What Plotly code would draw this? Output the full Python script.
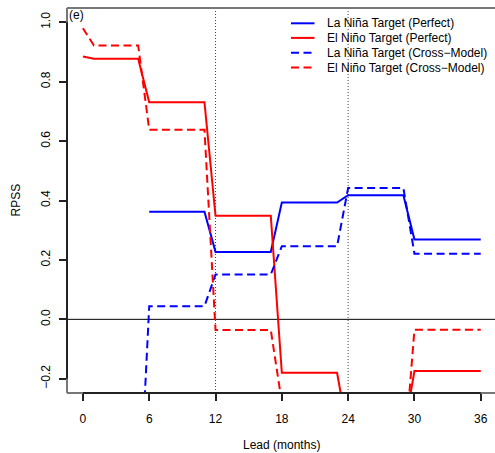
import plotly.graph_objects as go

# Lead time in months
lead = list(range(37))

# RPSS by lead, one value per month (None = not available)
lanina_perfect = [None] * 6 + [0.362] * 6 + [0.227] * 6 + [0.393] * 6 + [0.418] * 6 + [0.269] * 7
elnino_perfect = [0.885] + [0.877] * 5 + [0.731] * 6 + [0.349] * 6 + [-0.180] * 6 + [-0.39] * 6 + [-0.174] * 7
lanina_cross = [-0.71] * 6 + [0.044] * 6 + [0.151] * 6 + [0.246] * 6 + [0.442] * 6 + [0.221] * 7
elnino_cross = [0.98] + [0.922] * 5 + [0.638] * 6 + [-0.036] * 6 + [-0.28] * 6 + [-0.50] * 6 + [-0.035] * 7

series_names = [
    "La Niña Target (Perfect)",
    "El Niño Target (Perfect)",
    "La Niña Target (Cross\u2212Model)",
    "El Niño Target (Cross\u2212Model)",
]
series_values = [lanina_perfect, elnino_perfect, lanina_cross, elnino_cross]
series_colors = ["#0000FF", "#FF0000", "#0000FF", "#FF0000"]
series_dash = ["solid", "solid", "8px,4.5px", "8px,4.5px"]

x_ticks = [0, 6, 12, 18, 24, 30, 36]
y_ticks = [-0.2, 0.0, 0.2, 0.4, 0.6, 0.8, 1.0]
y_ticktext = ["\u22120.2", "0.0", "0.2", "0.4", "0.6", "0.8", "1.0"]
year_marks = [12, 24]
panel_label = "(e)"

FONT = "Liberation Sans, Arial, Helvetica, sans-serif"

fig = go.Figure()
for name, vals, col, dash in zip(series_names, series_values, series_colors, series_dash):
    fig.add_trace(go.Scatter(
        x=lead, y=vals, mode="lines", name=name,
        line=dict(color=col, width=2, dash=dash),
        connectgaps=False, showlegend=False,
    ))

shapes = []
# year boundaries
for xm in year_marks:
    shapes.append(dict(type="line", xref="x", yref="paper", x0=xm, x1=xm, y0=0, y1=1,
                       line=dict(color="#444444", width=1, dash="1px,2px"), layer="below"))
# zero reference line
shapes.append(dict(type="line", xref="paper", yref="y", x0=0, x1=1, y0=0, y1=0,
                   line=dict(color="black", width=1), layer="below"))
# plot frame (top, left, bottom)
frame = dict(color="#777777", width=2)
shapes.append(dict(type="line", xref="paper", yref="paper", x0=0, x1=1, y0=1, y1=1, line=frame))
shapes.append(dict(type="line", xref="paper", yref="paper", x0=0, x1=0, y0=0, y1=1, line=frame))
shapes.append(dict(type="line", xref="paper", yref="paper", x0=0, x1=1, y0=0, y1=0, line=frame))
# axis lines spanning the tick range
axis_line = dict(color="#222222", width=2)
shapes.append(dict(type="line", xref="x", yref="paper", x0=x_ticks[0], x1=x_ticks[-1], y0=0, y1=0, line=axis_line))
shapes.append(dict(type="line", xref="paper", yref="y", x0=0, x1=0, y0=y_ticks[0], y1=y_ticks[-1], line=axis_line))

# key
L, T, W, H = 67, 8, 428, 385
def px(xp):
    return (xp - L) / W
def py(yp):
    return (T + H - yp) / H

annotations = []
row_y = [23.3, 37.9, 52.7, 67.5]
for name, col, dash, yy in zip(series_names, series_colors, series_dash, row_y):
    shapes.append(dict(type="line", xref="paper", yref="paper", x0=px(291), x1=px(314.5),
                       y0=py(yy), y1=py(yy), line=dict(color=col, width=2, dash=dash)))
    annotations.append(dict(text=name, xref="paper", yref="paper", x=px(325), y=py(yy),
                            xanchor="left", yanchor="middle", showarrow=False,
                            font=dict(size=12, color="black", family=FONT)))

annotations.append(dict(text=panel_label, xref="paper", yref="paper", x=0, y=1, xshift=0, yshift=2,
                        xanchor="left", yanchor="top", showarrow=False,
                        font=dict(size=12, color="black", family=FONT)))
annotations.append(dict(text="Lead (months)", xref="x", yref="paper", x=18, y=0, yshift=-52,
                        xanchor="center", yanchor="middle", showarrow=False,
                        font=dict(size=12, color="black", family=FONT)))
annotations.append(dict(text="RPSS", xref="paper", yref="paper", x=0, y=0.5, xshift=-52,
                        xanchor="center", yanchor="middle", textangle=-90, showarrow=False,
                        font=dict(size=12, color="black", family=FONT)))

fig.update_layout(
    width=495, height=453, autosize=False,
    margin=dict(l=L, r=0, t=T, b=453 - T - H, pad=0),
    paper_bgcolor="white", plot_bgcolor="white",
    font=dict(family=FONT, size=12, color="black"),
    shapes=shapes, annotations=annotations,
    xaxis=dict(range=[-1.44, 37.29], tickvals=x_ticks, ticktext=[str(t) for t in x_ticks],
               ticks="outside", ticklen=7, tickwidth=1.5, tickcolor="#222222",
               showgrid=False, zeroline=False, showline=False,
               tickfont=dict(size=12, color="black"), ticklabelstandoff=8),
    yaxis=dict(range=[-0.248, 1.048], tickvals=y_ticks, ticktext=y_ticktext,
               ticks="outside", ticklen=7, tickwidth=1.5, tickcolor="#222222",
               showgrid=False, zeroline=False, showline=False, tickangle=-90,
               tickfont=dict(size=12, color="black"), ticklabelstandoff=4),
)

fig.write_html("out.html")
